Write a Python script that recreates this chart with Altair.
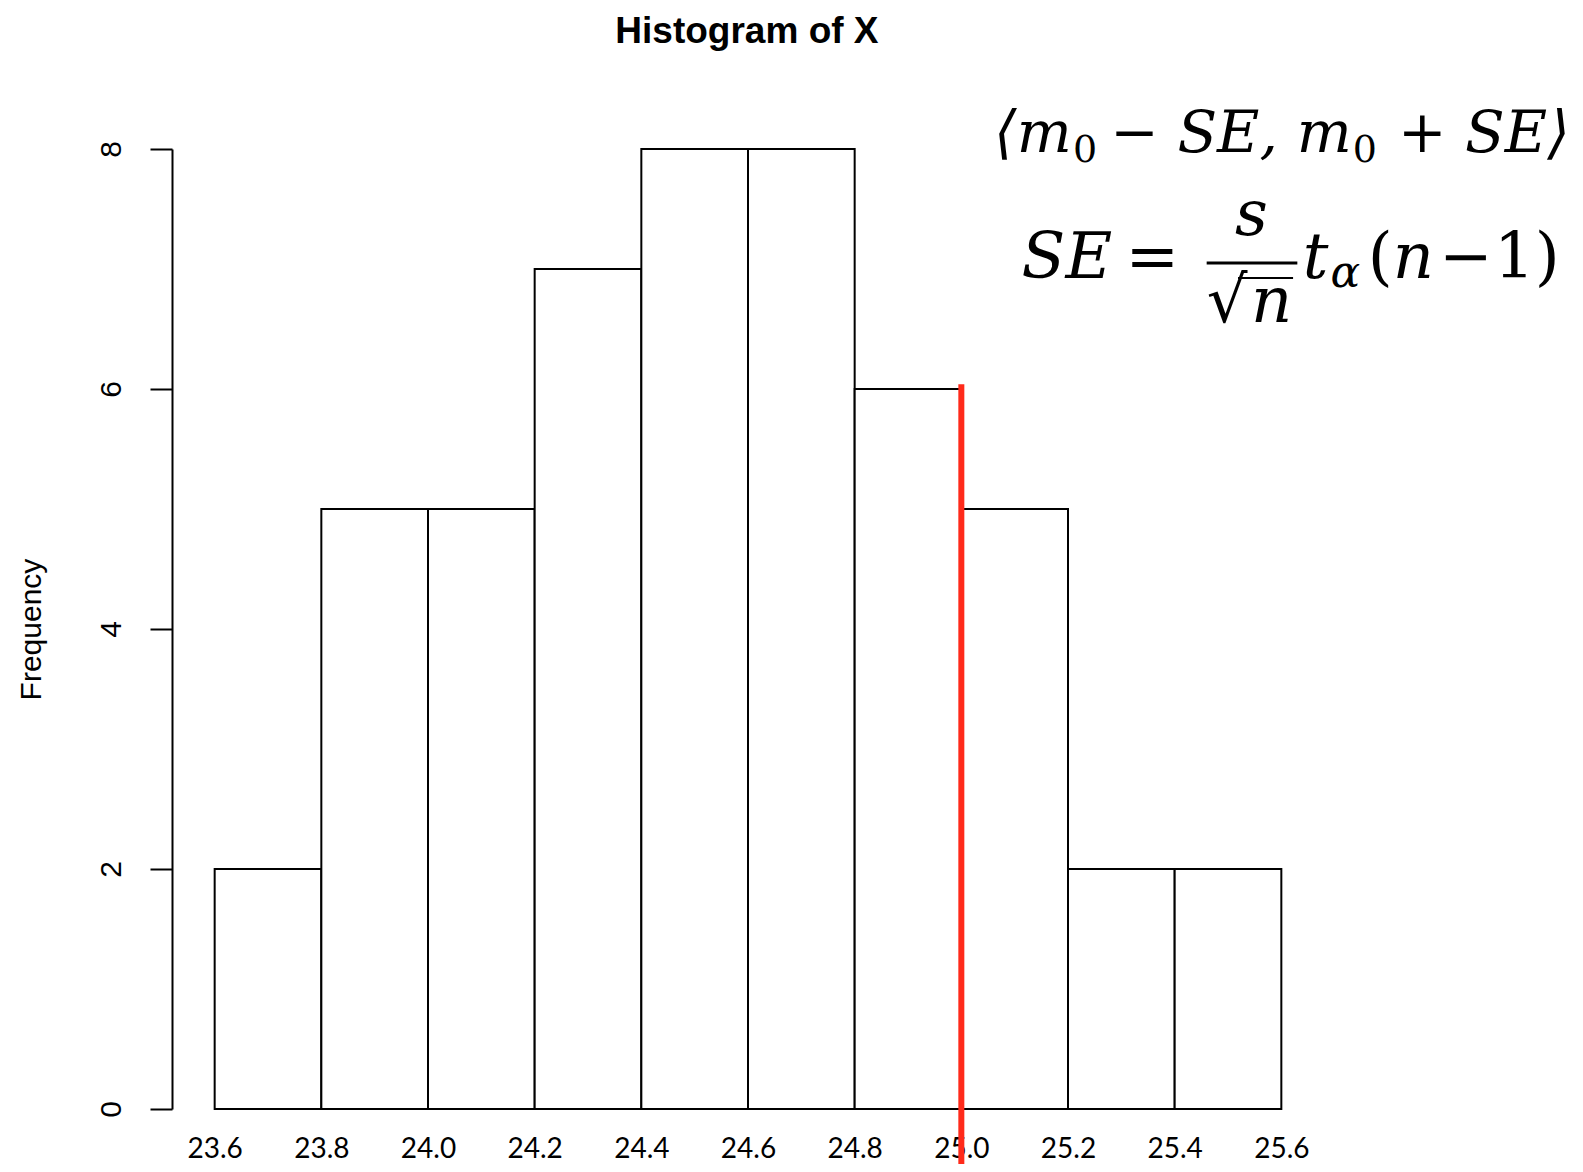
import altair as alt
import pandas as pd

# ---- data ----
edges = [23.6, 23.8, 24.0, 24.2, 24.4, 24.6, 24.8, 25.0, 25.2, 25.4, 25.6]
counts = [2, 5, 5, 7, 8, 8, 6, 5, 2, 2]
y_ticks = [0, 2, 4, 6, 8]
ci_x = [25.0]
ci_top = [6.04]
ci_bottom = [-0.6]

title_text = ["Histogram of X"]

# formula pieces (italic / upright), placed in data coordinates (left aligned)
formula_italic = ["⟨m", "− SE,", "m", "+ SE⟩", "SE", "t", "α", "n"]
formula_italic_x = [25.0613, 25.2794, 25.6288, 25.8188, 25.113, 25.640, 25.692, 25.809]
formula_italic_y = [7.975, 7.975, 7.975, 7.975, 6.925, 6.925, 6.85, 6.925]
formula_italic_size = [58, 58, 58, 58, 64, 64, 44, 64]
formula_centered = ["s", "n"]
formula_centered_x = [25.544, 25.582]
formula_centered_y = [7.283, 6.558]
formula_up = ["0", "0", "=", "√", "(", "−", "1)"]
formula_up_x = [25.2094, 25.7338, 25.308, 25.460, 25.762, 25.8956, 25.9988]
formula_up_y = [7.89, 7.89, 6.925, 6.558, 6.925, 6.925, 6.925]
formula_up_size = [38, 38, 64, 64, 64, 64, 64]
line_x = [25.460, 25.5188]
line_x2 = [25.630, 25.622]
line_y = [7.05, 6.925]
line_w = [3, 2]

bars = pd.DataFrame({"start": edges[:-1], "end": edges[1:], "count": counts})
ci = pd.DataFrame({"x": ci_x, "top": ci_top, "bottom": ci_bottom})
ttl = pd.DataFrame({"x": [24.598], "y": [8.975], "text": title_text})
fi = pd.DataFrame({"x": formula_italic_x, "y": formula_italic_y, "text": formula_italic,
                   "size": formula_italic_size})
fc = pd.DataFrame({"x": formula_centered_x, "y": formula_centered_y, "text": formula_centered})
fu = pd.DataFrame({"x": formula_up_x, "y": formula_up_y, "text": formula_up, "size": formula_up_size})
lines = pd.DataFrame({"x": line_x, "x2": line_x2, "y": line_y, "w": line_w})

xs = alt.Scale(domain=[23.52, 25.62], nice=False, zero=False)
ys = alt.Scale(domain=[0, 8], nice=False, zero=False)

bar = alt.Chart(bars).mark_rect(fill="white", stroke="black", strokeWidth=2).encode(
    x=alt.X("start:Q", scale=xs, axis=alt.Axis(
        values=edges, format=".1f", domain=False, ticks=False, grid=False,
        labelFont="Lato", labelFontSize=28, labelColor="black", labelPadding=26,
        labelFlush=False, title=None)),
    x2="end:Q",
    y=alt.Y("count:Q", scale=ys, axis=alt.Axis(
        values=y_ticks, format="d", grid=False, domain=True, domainColor="black", domainWidth=2,
        ticks=True, tickSize=22, tickWidth=2, tickColor="black",
        labelAngle=270, labelFont="Liberation Sans", labelFontSize=30, labelColor="black",
        labelPadding=24, labelFlush=False,
        title="Frequency", titleFont="Liberation Sans", titleFontSize=30,
        titleFontWeight="normal", titleColor="black", titlePadding=50)),
    y2=alt.datum(0),
)

red = alt.Chart(ci).mark_rule(color="#ff2a1a", strokeWidth=6, clip=False).encode(
    x=alt.X("x:Q", scale=xs), y=alt.Y("top:Q", scale=ys), y2="bottom:Q")

title = alt.Chart(ttl).mark_text(font="Liberation Sans", fontWeight="bold", fontSize=37,
                                 color="black", baseline="middle").encode(
    x=alt.X("x:Q", scale=xs), y=alt.Y("y:Q", scale=ys), text="text:N")

ital = alt.Chart(fi).mark_text(
    font="DejaVu Serif", fontStyle="italic", color="black",
    baseline="alphabetic", align="left").encode(
    x=alt.X("x:Q", scale=xs), y=alt.Y("y:Q", scale=ys), text="text:N",
    size=alt.Size("size:Q", scale=None, legend=None))

ital_c = alt.Chart(fc).mark_text(
    font="DejaVu Serif", fontStyle="italic", color="black", fontSize=64,
    baseline="alphabetic", align="center").encode(
    x=alt.X("x:Q", scale=xs), y=alt.Y("y:Q", scale=ys), text="text:N")

up = alt.Chart(fu).mark_text(font="DejaVu Serif", color="black",
                             baseline="alphabetic", align="left").encode(
    x=alt.X("x:Q", scale=xs), y=alt.Y("y:Q", scale=ys), text="text:N",
    size=alt.Size("size:Q", scale=None, legend=None))

fr = alt.Chart(lines).mark_rule(color="black", clip=False).encode(
    x=alt.X("x:Q", scale=xs), x2="x2:Q", y=alt.Y("y:Q", scale=ys),
    strokeWidth=alt.StrokeWidth("w:Q", scale=None, legend=None))

chart = alt.layer(bar, red, title, ital, ital_c, up, fr).properties(
    width=1120, height=960,
    autosize=alt.AutoSizeParams(type="none"),
    padding={"left": 164, "top": 141, "right": 283, "bottom": 55},
    background="white",
).configure_view(stroke=None)

chart.save("out.html", embed_options={"renderer": "svg", "actions": False})
